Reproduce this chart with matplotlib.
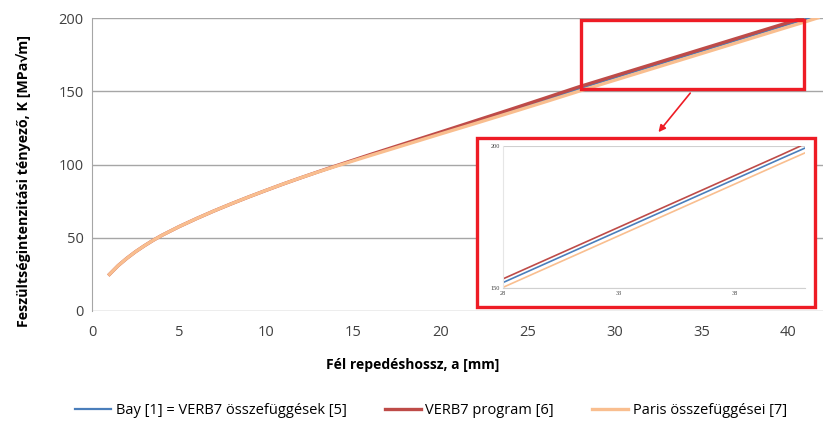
import matplotlib
matplotlib.use('Agg')
import matplotlib.pyplot as plt
import matplotlib.patches as patches

plt.rcParams['font.family'] = ['Open Sans', 'DejaVu Sans']

# Half crack length a [mm] and stress intensity factor K [MPa*sqrt(m)]
a_common = [1, 1.5, 2, 2.5, 3, 3.5, 4, 5, 6, 7, 8, 9, 10, 11, 12, 13, 14,
            16, 18, 20, 22, 24, 26, 28, 30, 32, 34, 36, 38, 40]

k_bay = [25, 31, 36, 40.5, 44.5, 48.2, 51.6, 57.6, 63.1, 68.3, 73.2, 77.9,
         82.4, 86.8, 91.0, 95.0, 98.9, 106.6, 114.2, 121.7, 129.2, 136.6,
         144.1, 151.9, 159.2, 166.5, 173.8, 181.1, 188.4, 195.7]
k_verb7 = [25, 31, 36, 40.5, 44.5, 48.2, 51.6, 57.6, 63.1, 68.3, 73.2, 77.9,
           82.4, 86.8, 91.0, 95.1, 99.1, 106.9, 114.5, 122.1, 129.8, 137.5,
           145.3, 153.2, 160.5, 167.8, 175.1, 182.4, 189.7, 197.0]
k_paris = [25, 31, 36, 40.5, 44.5, 48.2, 51.6, 57.6, 63.1, 68.3, 73.2, 77.9,
           82.4, 86.8, 91.0, 95.0, 98.8, 106.2, 113.5, 120.8, 128.0, 135.3,
           142.7, 150.2, 157.5, 164.8, 172.1, 179.4, 186.7, 194.0]

# last points of each series (where K reaches ~200)
a_end = {'bay': [41, 41.2], 'verb7': [40.8], 'paris': [41, 41.7]}
k_end = {'bay': [199.3, 200.1], 'verb7': [200.0], 'paris': [197.6, 200.2]}

labels = ['Bay [1] = VERB7 összefüggések [5]', 'VERB7 program [6]',
          'Paris összefüggései [7]']
colors = ['#4a7ebb', '#be4b48', '#f9be8f']

a_bay = a_common + a_end['bay']
a_verb7 = a_common + a_end['verb7']
a_paris = a_common + a_end['paris']
k_bay = k_bay + k_end['bay']
k_verb7 = k_verb7 + k_end['verb7']
k_paris = k_paris + k_end['paris']

fig = plt.figure(figsize=(8.24, 4.21), dpi=100)
ax = fig.add_axes([0.1117, 0.2613, 0.8873, 0.6957])

ax.plot(a_bay, k_bay, color=colors[0], lw=1.6, label=labels[0])
ax.plot(a_verb7, k_verb7, color=colors[1], lw=2.4, label=labels[1])
ax.plot(a_paris, k_paris, color=colors[2], lw=2.4, label=labels[2])

ax.set_xlim(0, 42)
ax.set_ylim(0, 200)
ax.set_xticks(range(0, 41, 5))
ax.set_yticks(range(0, 201, 50))
ax.grid(axis='y', color='#a6a6a6', lw=1)
ax.set_axisbelow(True)
for s in ['top', 'right', 'bottom']:
    ax.spines[s].set_visible(False)
ax.spines['left'].set_color('#a6a6a6')
ax.tick_params(length=0, labelsize=10.5, colors='#404040', pad=6)
ax.tick_params(axis='x', pad=10)
ax.set_xlabel('Fél repedéshossz, a [mm]', fontsize=10, fontweight='bold')
ax.xaxis.set_label_coords(0.4385, -0.16)
ax.set_ylabel('Feszültségintenzitási tényező, K [MPa√m]', fontsize=10.3,
              fontweight='bold')
ax.yaxis.set_label_coords(-0.083, 0.445)

# zoom region marker on main chart
ax.add_patch(patches.Rectangle((28.1, 151.5), 12.8, 47.5, fill=False,
                               edgecolor='#ee1c25', lw=2.4, zorder=5,
                               clip_on=False))

# frame around the inset
fig.add_artist(patches.Rectangle((0.579, 0.2708), 0.410, 0.401,
                                 transform=fig.transFigure, facecolor='white',
                                 edgecolor='#ee1c25', lw=2.4, zorder=3))
fig.add_artist(patches.FancyArrowPatch((0.8398, 0.784), (0.797, 0.681),
                                       transform=fig.transFigure,
                                       arrowstyle='-|>', mutation_scale=10,
                                       color='#ee1c25', lw=1.2, zorder=4))

# inset
axi = fig.add_axes([0.6104, 0.316, 0.3665, 0.337], zorder=6)
axi.plot(a_bay, k_bay, color=colors[0], lw=1.2)
axi.plot(a_verb7, k_verb7, color=colors[1], lw=1.2)
axi.plot(a_paris, k_paris, color=colors[2], lw=1.2)
axi.set_xlim(28, 41)
axi.set_ylim(150, 200)
axi.set_xticks([28, 33, 38])
axi.set_yticks([150, 200])
axi.grid(axis='y', color='#d0d0d0', lw=0.8)
for s in ['top', 'right']:
    axi.spines[s].set_visible(False)
axi.spines['left'].set_color('#e6e6e6')
axi.spines['bottom'].set_color('#d0d0d0')
axi.tick_params(length=0, labelsize=4.5, colors='#404040', pad=2)
for t in axi.get_xticklabels() + axi.get_yticklabels():
    t.set_family(['Liberation Serif', 'DejaVu Serif'])

fig.legend(loc='center', bbox_to_anchor=(0.523, 0.025), ncol=3, frameon=False,
           fontsize=10.5, handlelength=2.5, handletextpad=0.3,
           columnspacing=2.6)

fig.savefig('out.png', dpi=100)
